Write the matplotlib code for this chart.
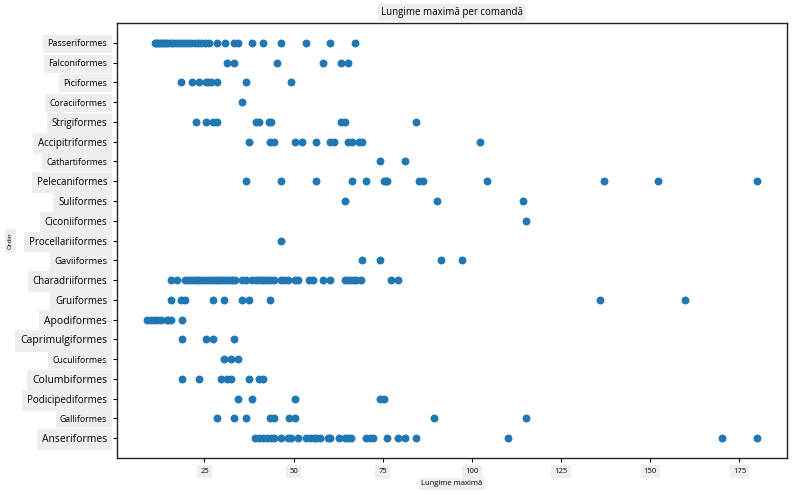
import matplotlib
matplotlib.use("Agg")
import matplotlib.pyplot as plt

plt.rcParams['font.family'] = ['Open Sans', 'DejaVu Sans']

orders = ['Passeriformes', 'Falconiformes', 'Piciformes', 'Coraciiformes', 'Strigiformes',
          'Accipitriformes', 'Cathartiformes', 'Pelecaniformes', 'Suliformes', 'Ciconiiformes',
          'Procellariiformes', 'Gaviiformes', 'Charadriiformes', 'Gruiformes', 'Apodiformes',
          'Caprimulgiformes', 'Cuculiformes', 'Columbiformes', 'Podicipediformes',
          'Galliformes', 'Anseriformes']

# maximum length values per order
passeriformes = [11.0, 11.5, 12.0, 12.6, 13.1, 13.7, 14.2, 14.8, 15.5, 16.1, 16.9, 17.8, 18.6,
                 19.5, 20.4, 21.3, 22.3, 23.2, 24.1, 25.2, 26.4, 28.5, 30.8, 33.4, 34.5,
                 38.4, 41.5, 46.5, 53.5, 60.3, 67.3]
falconiformes = [31.4, 33.4, 45.4, 58.3, 63.3, 65.3]
piciformes = [18.5, 21.5, 23.6, 25.5, 26.1, 26.9, 28.6, 36.5, 49.3]
coraciiformes = [35.4]
strigiformes = [22.5, 25.5, 27.3, 28.6, 39.5, 40.2, 43.0, 43.7, 63.3, 64.5, 84.3]
accipitriformes = [37.6, 43.4, 44.6, 50.5, 52.4, 56.3, 60.2, 61.4, 65.1, 66.4, 68.4, 69.3, 102.2]
cathartiformes = [74.3, 81.2]
pelecaniformes = [36.5, 46.5, 56.3, 66.4, 70.3, 75.2, 75.8, 76.3, 85.2, 86.3, 104.2,
                  137.0, 152.1, 179.8]
suliformes = [64.5, 90.2, 114.3]
ciconiiformes = [115.1]
procellariiformes = [46.5]
gaviiformes = [69.3, 74.3, 91.3, 97.2]
charadriiformes = [15.5, 17.4, 19.6, 20.5, 21.3, 22.0, 22.8, 23.6, 24.4, 25.2, 26.0, 26.8,
                   27.6, 28.4, 29.2, 30.0, 30.8, 31.6, 32.4, 33.0, 33.6, 35.4, 36.6, 38.4,
                   39.4, 40.2, 41.0, 41.8, 42.6, 43.4, 44.6, 46.5, 47.4, 48.5, 50.5, 51.2,
                   54.4, 55.5, 58.3, 60.2, 64.5, 65.3, 66.0, 66.9, 67.6, 69.0, 77.4, 79.3]
gruiformes = [15.5, 18.5, 19.6, 27.5, 30.6, 35.4, 37.6, 43.5, 136.0, 159.8]
apodiformes = [9.0, 9.9, 10.8, 11.8, 12.7, 14.5, 14.9, 15.5, 18.6]
caprimulgiformes = [18.6, 25.5, 27.5, 33.4]
cuculiformes = [30.6, 32.5, 34.5]
columbiformes = [18.6, 23.6, 29.5, 31.4, 32.5, 37.6, 40.3, 41.5]
podicipediformes = [34.5, 38.4, 50.5, 74.2, 75.4]
galliformes = [28.6, 33.4, 36.5, 43.5, 44.6, 48.8, 50.5, 89.3, 115.1]
anseriformes = [39.3, 40.4, 41.5, 42.5, 43.7, 44.6, 46.5, 48.3, 49.3, 51.3, 53.5, 54.5,
                55.6, 56.3, 57.4, 59.5, 60.2, 62.6, 64.5, 65.3, 66.2, 70.2, 71.4, 72.3,
                76.2, 79.3, 81.2, 84.3, 110.1, 170.0, 179.8]

values = [passeriformes, falconiformes, piciformes, coraciiformes, strigiformes,
          accipitriformes, cathartiformes, pelecaniformes, suliformes, ciconiiformes,
          procellariiformes, gaviiformes, charadriiformes, gruiformes, apodiformes,
          caprimulgiformes, cuculiformes, columbiformes, podicipediformes,
          galliformes, anseriformes]

# the labels in the picture are not all the same size
label_sizes = [6.5, 6.5, 6.5, 6.3, 7, 7, 6.2, 7, 7, 7, 7, 6.8, 7, 7, 7.5, 7.5, 6.3, 7.5, 7, 6.3, 7.5]

xs, ys = [], []
for i, vals in enumerate(values):
    xs += vals
    ys += [i] * len(vals)

fig = plt.figure(figsize=(7.93, 4.96), dpi=100)
ax = fig.add_axes([0.1475, 0.0766, 0.845, 0.877])
ax.scatter(xs, ys, s=22, color='#1f77b4', zorder=3)

ax.set_yticks(range(len(orders)))
ax.set_yticklabels(orders)
ax.set_ylim(len(orders), -1)
ax.set_xticks([25, 50, 75, 100, 125, 150, 175])

box = dict(facecolor='#eeeeee', edgecolor='none', boxstyle='square,pad=0.5')
for lab, fs in zip(ax.get_yticklabels(), label_sizes):
    lab.set_fontsize(fs)
    lab.set_bbox(box)
for lab in ax.get_xticklabels():
    lab.set_fontsize(5.5)
    lab.set_bbox(dict(facecolor='#eeeeee', edgecolor='none', boxstyle='square,pad=0.4'))

ax.tick_params(axis='both', length=3, width=0.8, pad=4)
ax.set_xlabel('Lungime maximă', fontsize=5.5,
              bbox=dict(facecolor='#eeeeee', edgecolor='none', boxstyle='square,pad=0.3'))
ax.set_ylabel('Ordin', fontsize=4.5,
              bbox=dict(facecolor='#eeeeee', edgecolor='none', boxstyle='square,pad=0.5'))
ax.yaxis.set_label_coords(-0.155, 0.5)
ax.set_title('Lungime maximă per comandă', fontsize=7, pad=6,
             bbox=dict(facecolor='#eeeeee', edgecolor='none', boxstyle='square,pad=0.3'))

for sp in ax.spines.values():
    sp.set_color('#222222')
    sp.set_linewidth(1.0)

fig.savefig('out.png', dpi=100)
